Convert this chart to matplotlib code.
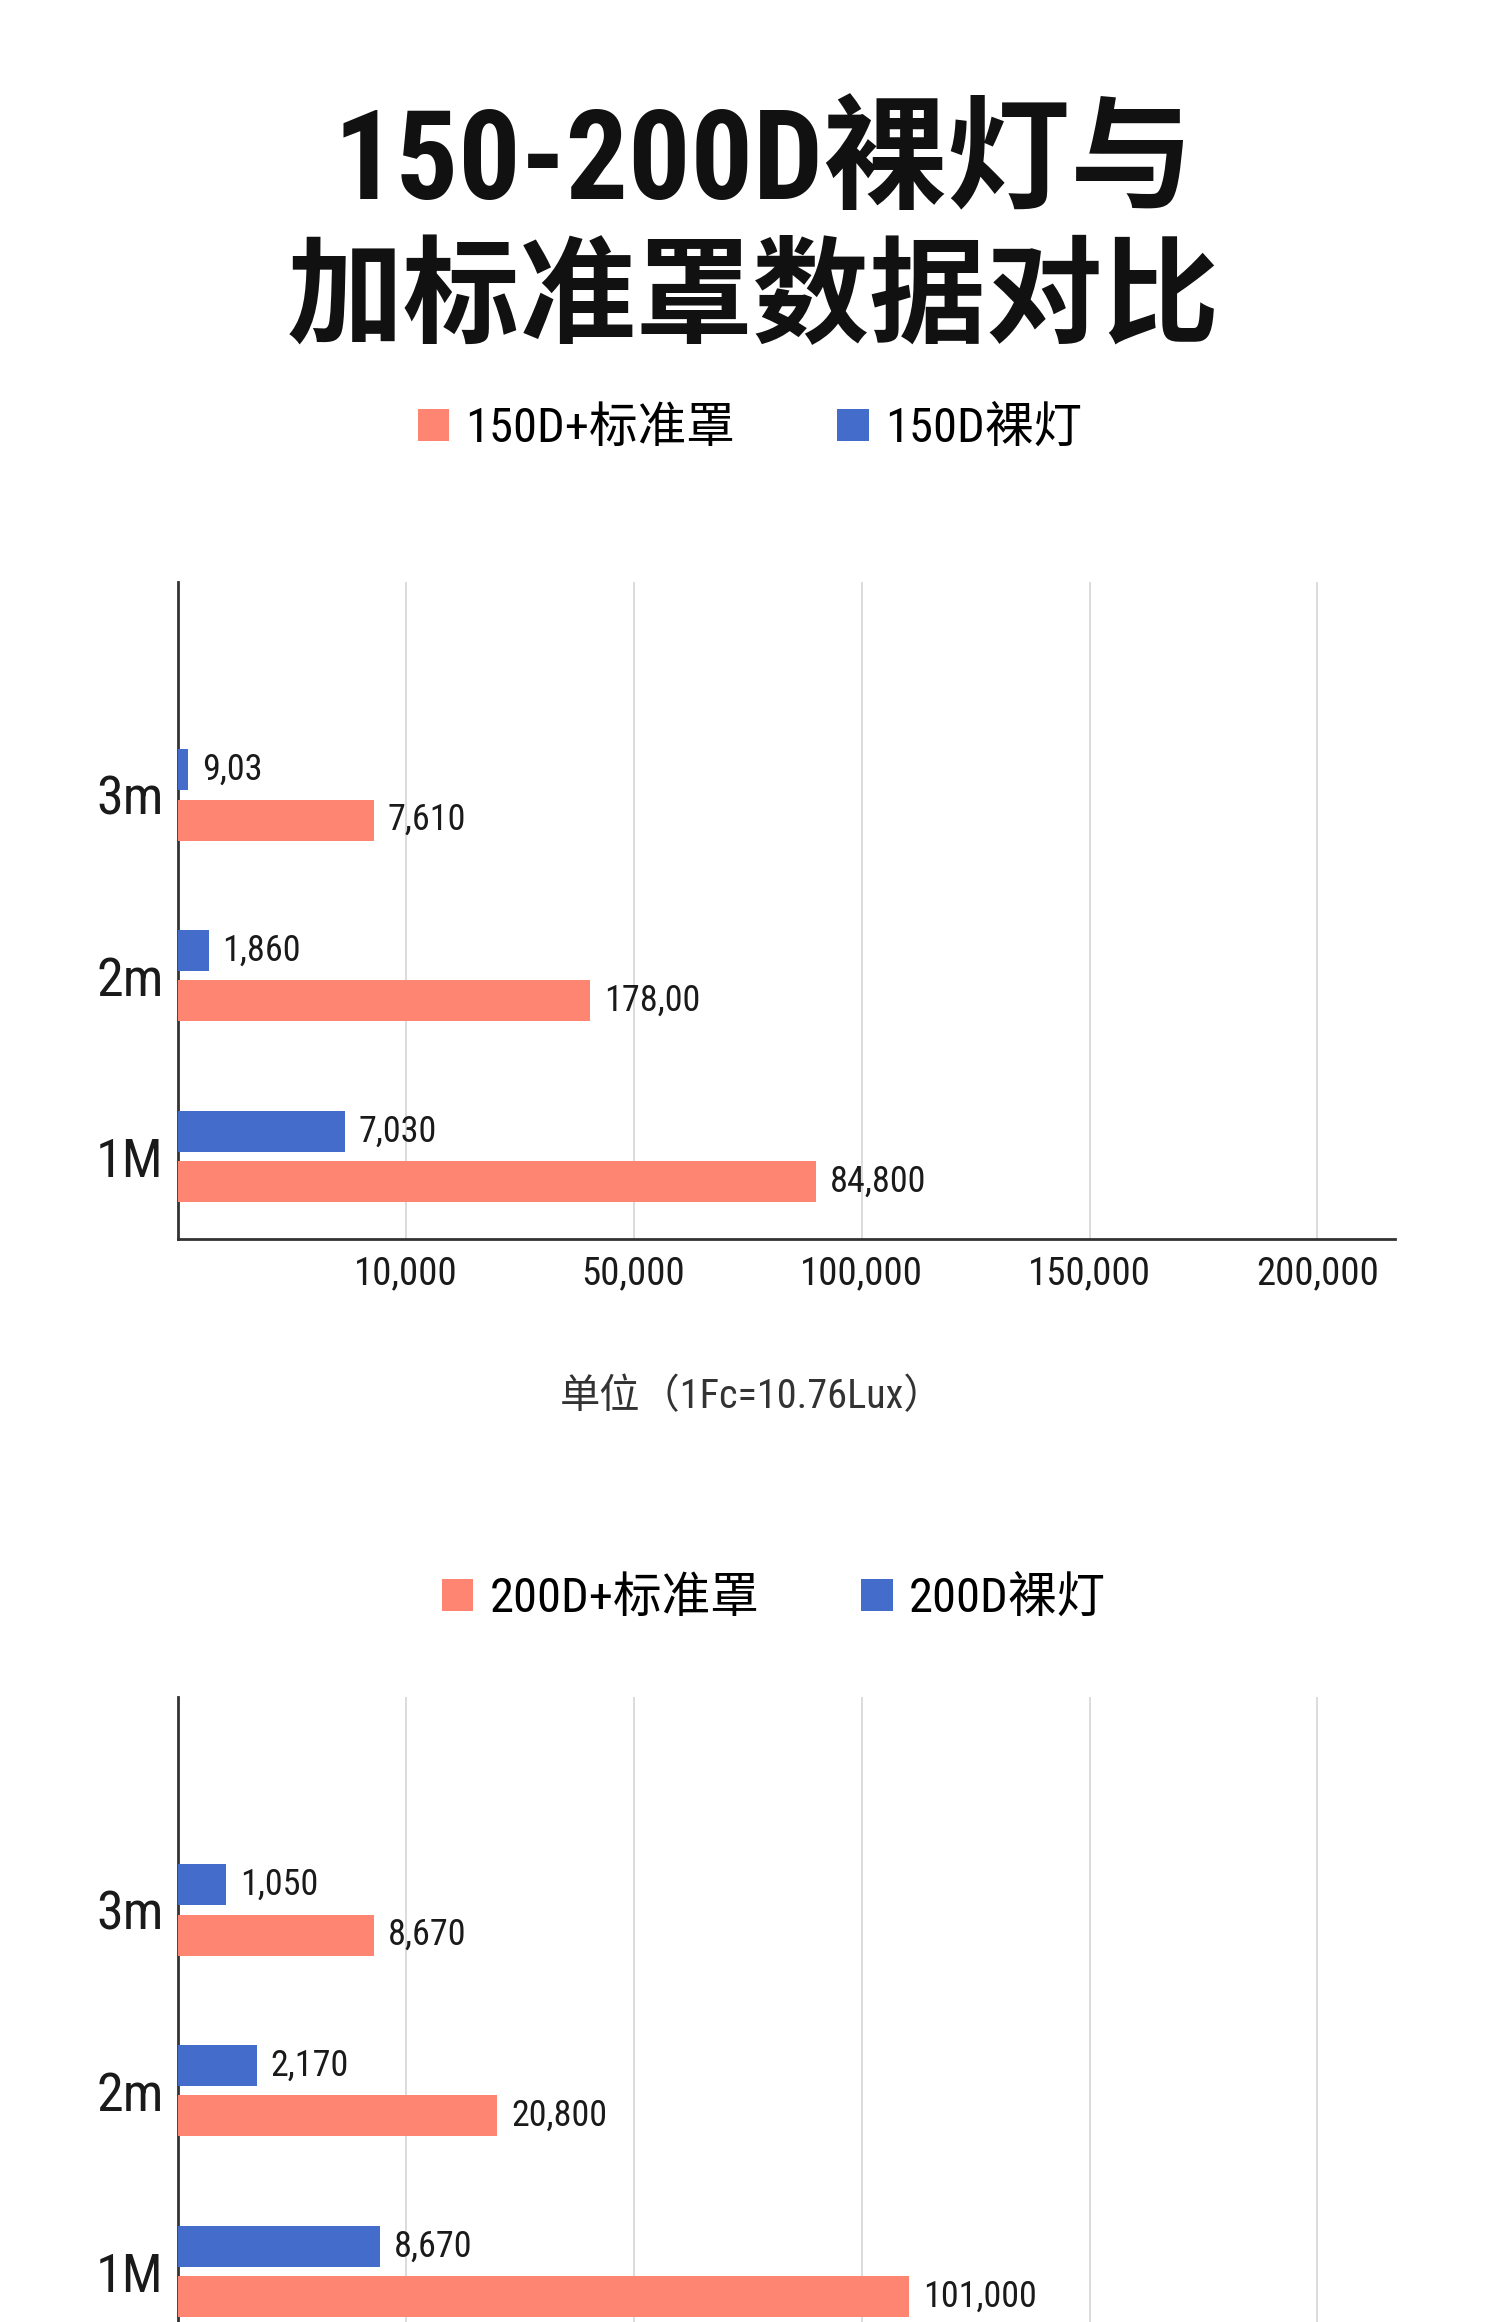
import numpy as np
import matplotlib
matplotlib.use("Agg")
import matplotlib.pyplot as plt

# 字体：数字尽量用窄体，中文退到 Noto CJK
num_font = ["Roboto Condensed", "Liberation Sans Narrow", "Noto Sans CJK SC", "DejaVu Sans"]
plt.rcParams["font.family"] = num_font

# ---- 数据 ----
distances = ["1M", "2m", "3m"]

# 150D（柱长按图上读取，标签按图上文字）
bare_150 = [7340, 1360, 450]
hood_150 = [90000, 42400, 8610]
bare_150_labels = ["7,030", "1,860", "9,03"]
hood_150_labels = ["84,800", "178,00", "7,610"]

# 200D
bare_200 = [8880, 3470, 2140]
hood_200 = [110500, 26100, 8630]
bare_200_labels = ["8,670", "2,170", "1,050"]
hood_200_labels = ["101,000", "20,800", "8,670"]

tick_values = [10000, 50000, 100000, 150000, 200000]
tick_labels = ["10,000", "50,000", "100,000", "150,000", "200,000"]

# 非线性刻度：每段等距
breaks = [0, 10000, 50000, 100000, 150000, 200000, 250000]
steps = np.arange(len(breaks))


def fwd(x):
    return np.interp(x, breaks, steps)


def inv(y):
    return np.interp(y, steps, breaks)


PINK = "#FF8573"
BLUE = "#436CCB"

W, H = 1500, 2322
fig = plt.figure(figsize=(W / 100, H / 100), dpi=100)
fig.patch.set_facecolor("white")

fig.text(0.509, 1 - 165 / H, "150-200D裸灯与", ha="center", va="center",
         fontsize=89, fontweight=900, color="#111111")
fig.text(0.502, 1 - 302 / H, "加标准罩数据对比", ha="center", va="center",
         fontsize=84, fontweight=900, color="#111111")


def draw_chart(top_px, bare, hood, bare_lab, hood_lab, leg_names, leg_xy, show_x):
    ax_h = (1239 - 582) / H
    top = 1 - top_px / H
    ax = fig.add_axes([177.6 / W, top - ax_h, (1395 - 177.6) / W, ax_h])
    ax.set_xscale("function", functions=(fwd, inv))
    ax.set_xlim(0, 217000)
    ax.set_ylim(-0.456, 3.178)

    y = np.arange(len(distances))
    off = 0.139
    hb = 0.227
    b_blue = ax.barh(y + off, bare, height=hb, color=BLUE, zorder=3)
    b_pink = ax.barh(y - off, hood, height=hb, color=PINK, zorder=3)

    for yy, v, t in zip(y + off, bare, bare_lab):
        ax.annotate(t, (v, yy), xytext=(10, 0), textcoords="offset points",
                    ha="left", va="center", fontsize=26, color="#1a1a1a")
    for yy, v, t in zip(y - off, hood, hood_lab):
        ax.annotate(t, (v, yy), xytext=(10, 0), textcoords="offset points",
                    ha="left", va="center", fontsize=26, color="#1a1a1a")

    ax.set_yticks(y)
    ax.set_yticklabels(distances, fontsize=39, color="#1a1a1a")
    ax.set_xticks(tick_values)
    ax.set_xticklabels(tick_labels, fontsize=28, color="#1a1a1a")
    ax.tick_params(axis="both", length=0)
    ax.tick_params(axis="y", pad=10)
    ax.tick_params(axis="x", pad=12, labelbottom=show_x)
    ax.xaxis.set_minor_locator(matplotlib.ticker.NullLocator())
    ax.grid(axis="x", color="#d6d6d6", linewidth=1.2, zorder=0)
    for s in ["top", "right"]:
        ax.spines[s].set_visible(False)
    for s in ["left", "bottom"]:
        ax.spines[s].set_color("#333333")
        ax.spines[s].set_linewidth(2)
    ax.set_facecolor("none")

    fig.legend([b_pink, b_blue], leg_names, loc="center",
               bbox_to_anchor=leg_xy, ncol=2, frameon=False,
               fontsize=35, handlelength=0.64, handleheight=0.64,
               handletextpad=0.34, columnspacing=2.1)
    return ax


draw_chart(582, bare_150, hood_150, bare_150_labels, hood_150_labels,
           ["150D+标准罩", "150D裸灯"], (750 / W, 1 - 429 / H), True)
draw_chart(1697, bare_200, hood_200, bare_200_labels, hood_200_labels,
           ["200D+标准罩", "200D裸灯"], (774 / W, 1 - 1599 / H), False)

fig.text(752 / W, 1 - 1397 / H, "单位（1Fc=10.76Lux）", ha="center",
         va="center", fontsize=29, color="#333333")

fig.savefig("out.png", dpi=100, facecolor="white")
